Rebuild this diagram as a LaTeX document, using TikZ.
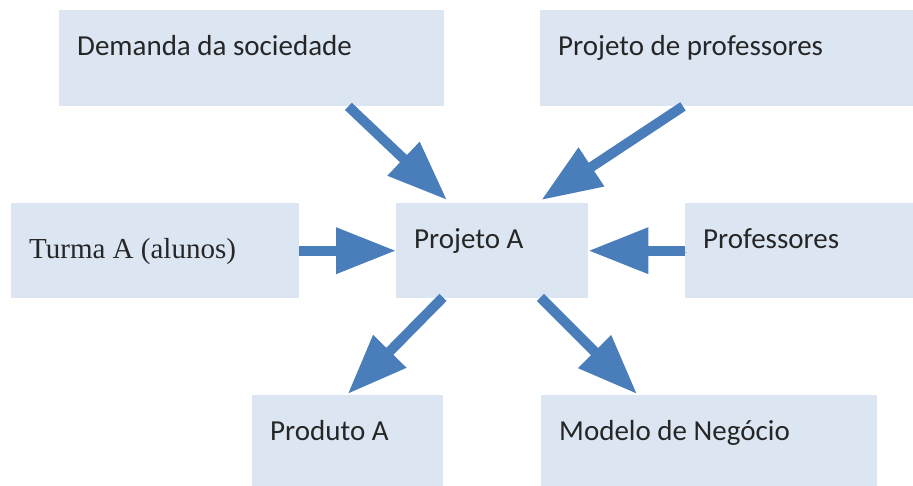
\documentclass[tikz,border=0pt]{standalone}
\usepackage{fontspec}
\setmainfont{Carlito}
\newfontfamily\serifa{Liberation Serif}
\usetikzlibrary{arrows.meta}
\definecolor{caixaazul}{RGB}{220,230,242}
\definecolor{setaazul}{RGB}{74,126,187}
\colorlet{textocinza}{black!85}

\begin{document}
\begin{tikzpicture}[x=1pt,y=1pt]
\useasboundingbox (0,0) rectangle (913,486);
\tikzset{caixa/.style ={anchor=north west, fill=caixaazul, align=flush left, inner xsep=18pt, inner ysep=0pt,
  text height=45pt, text depth=51pt, text=textocinza, font=\fontsize{29}{32}\selectfont}}
\node[caixa, text width=349pt] (dem) at (59,476) {Demanda da sociedade};
\node[caixa, text width=337pt] (pprof) at (540,476) {Projeto de professores};
\tikzset{caixa/.append style ={text depth=50pt}}
\node[caixa, text width=252pt, text height=55pt, text depth=40pt, font=\serifa\fontsize{29}{32}\selectfont] (turma) at (11,283) {Turma A (alunos)};
\node[caixa, text width=156pt] (proj) at (396,283) {Projeto A};
\node[caixa, text width=192pt] (prof) at (685,283) {Professores};
\tikzset{caixa/.append style ={text depth=46pt}}
\node[caixa, text width=155pt] (prod) at (252,91) {Produto A};
\node[caixa, text width=300pt] (mod) at (541,91) {Modelo de Negócio};
\tikzset{seta/.style ={-{Triangle[length=60pt,width=44pt]}, line width=10pt, color=setaazul,
  preaction={draw=black, opacity=0.18, transform canvas={shift={(1.5pt,-2pt)}}}}}
\draw[seta] ([xshift=-96pt]dem.south east) -- ([shift={(51pt,3pt)}]proj.north west);
\draw[seta] ([xshift=143pt]pprof.south west) -- ([shift={(-47pt,3pt)}]proj.north east);
\draw[seta] (turma.east) -- (proj.west);
\draw[seta] (prof.west) -- (proj.east);
\draw[seta] ([shift={(47pt,1pt)}]proj.south west) -- ([yshift=1pt]prod.north);
\draw[seta] ([shift={(-48pt,1pt)}]proj.south east) -- ([shift={(96pt,1pt)}]mod.north west);
\end{tikzpicture}
\end{document}
